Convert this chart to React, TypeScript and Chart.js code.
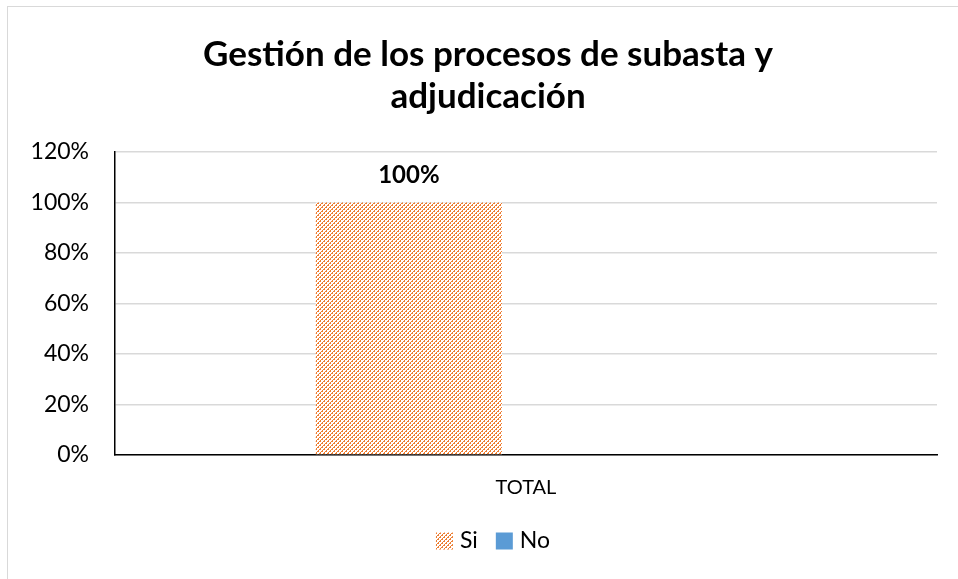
import React, { useEffect, useRef } from "react";
import { Chart, registerables } from "chart.js";

Chart.register(...registerables);

const titleLines = ["Gestión de los procesos de subasta y", "adjudicación"];
const categories = ["TOTAL"];
const seriesNames = ["Si", "No"];
const siValues = [1.0];
const noValues = [0];
const yTicks = [0, 0.2, 0.4, 0.6, 0.8, 1.0, 1.2];

const ORANGE = "#ED7D31";
const BLUE = "#5B9BD5";
const FONT = "Lato, 'Open Sans', sans-serif";

const TITLE_CENTER_X = 488;
const LEGEND_CENTER_X = 493;
const LEGEND_CENTER_Y = 541;

function makePattern(): CanvasPattern | string {
  const c = document.createElement("canvas");
  c.width = 8;
  c.height = 8;
  const ctx = c.getContext("2d");
  if (!ctx) return ORANGE;
  ctx.fillStyle = "#ffffff";
  ctx.fillRect(0, 0, 8, 8);
  ctx.fillStyle = ORANGE;
  for (let x = 0; x < 8; x++) {
    for (let y = 0; y < 8; y++) {
      const d = (x + y) % 4;
      if (d === 0 || (d === 1 && x % 2 === 0 && (x + 2 * y) % 8 !== 1)) {
        ctx.fillRect(x, y, 1, 1);
      }
    }
  }
  const p = ctx.createPattern(c, "repeat");
  return p || ORANGE;
}

const dataLabelPlugin = {
  id: "dataLabels",
  afterDatasetsDraw(chart: any) {
    const ctx = chart.ctx;
    const meta = chart.getDatasetMeta(0);
    const ds = chart.data.datasets[0];
    ctx.save();
    ctx.font = `bold 24px ${FONT}`;
    ctx.fillStyle = "#000";
    ctx.textAlign = "center";
    ctx.textBaseline = "middle";
    meta.data.forEach((bar: any, i: number) => {
      const v = ds.data[i] as number;
      ctx.fillText(Math.round(v * 100) + "%", bar.x, bar.y - 27);
    });
    ctx.restore();
  },
};

const titleLegendPlugin = {
  id: "titleLegend",
  afterDraw(chart: any) {
    const ctx = chart.ctx;
    ctx.save();
    // title
    const tb = chart.titleBlock;
    const lineH = 35 * 1.2;
    ctx.font = `bold 35px ${FONT}`;
    ctx.fillStyle = "#000";
    ctx.textAlign = "center";
    ctx.textBaseline = "middle";
    const top = tb ? tb.top + 34 : 34;
    titleLines.forEach((t, i) => {
      ctx.fillText(t, TITLE_CENTER_X, top + lineH * (i + 0.5));
    });
    // legend
    ctx.font = `23px ${FONT}`;
    const box = 17;
    const gapText = 7;
    const gapItem = 18;
    const items = chart.data.datasets.map((ds: any) => ({
      label: ds.label,
      color: ds.backgroundColor,
      w: ctx.measureText(ds.label).width,
    }));
    let total = 0;
    items.forEach((it: any, i: number) => {
      total += box + gapText + it.w + (i < items.length - 1 ? gapItem : 0);
    });
    let x = LEGEND_CENTER_X - total / 2;
    ctx.textAlign = "left";
    items.forEach((it: any) => {
      ctx.fillStyle = it.color;
      ctx.fillRect(x, LEGEND_CENTER_Y - box / 2, box, box);
      x += box + gapText;
      ctx.fillStyle = "#000";
      ctx.fillText(it.label, x, LEGEND_CENTER_Y);
      x += it.w + gapItem;
    });
    ctx.restore();
  },
};

export default function App() {
  const ref = useRef<HTMLCanvasElement>(null);
  useEffect(() => {
    if (!ref.current) return;
    const pattern = makePattern();
    const chart = new Chart(ref.current, {
      type: "bar",
      data: {
        labels: categories,
        datasets: [
          {
            label: seriesNames[0],
            data: siValues,
            backgroundColor: pattern as any,
            borderWidth: 0,
            categoryPercentage: 0.57,
            barPercentage: 0.795,
          },
          {
            label: seriesNames[1],
            data: noValues,
            backgroundColor: BLUE,
            borderWidth: 0,
            categoryPercentage: 0.57,
            barPercentage: 0.795,
          },
        ],
      },
      options: {
        animation: false,
        responsive: false,
        maintainAspectRatio: false,
        layout: { padding: { left: 8, right: 21, top: 0, bottom: 64 } },
        scales: {
          x: {
            grid: { display: false, drawTicks: false },
            border: { display: true, color: "#000", width: 1.5 },
            afterFit: (scale: any) => {
              scale.height = 60;
            },
            ticks: { color: "#000", font: { family: FONT, size: 20 }, padding: 21 },
          },
          y: {
            min: 0,
            max: 1.2,
            afterBuildTicks: (scale: any) => {
              scale.ticks = yTicks.map((v) => ({ value: v }));
            },
            afterFit: (scale: any) => {
              scale.width = 107;
            },
            grid: { color: "#d9d9d9", lineWidth: 1.5, drawTicks: false },
            border: { display: true, color: "#000", width: 1.5 },
            ticks: {
              color: "#000",
              font: { family: FONT, size: 23 },
              padding: 26,
              callback: (v: any) => Math.round(Number(v) * 100) + "%",
            },
          },
        },
        plugins: {
          title: {
            display: true,
            text: titleLines,
            color: "rgba(0,0,0,0)",
            font: { family: FONT, size: 35, weight: "bold", lineHeight: 1.2 },
            padding: { top: 34, bottom: 34 },
          },
          legend: { display: false },
          tooltip: { enabled: false },
        },
      },
      plugins: [dataLabelPlugin, titleLegendPlugin],
    });
    return () => chart.destroy();
  }, []);

  return (
    <div style={{ position: "fixed", left: 0, top: 0, width: 958, height: 579, background: "#fff", overflow: "hidden" }}>
      <div
        style={{
          position: "absolute",
          left: 7,
          top: 6,
          width: 1000,
          height: 1000,
          borderLeft: "1.5px solid #d9d9d9",
          borderTop: "1.5px solid #d9d9d9",
        }}
      />
      <canvas ref={ref} width={958} height={579} style={{ position: "absolute", left: 0, top: 0 }} />
    </div>
  );
}
